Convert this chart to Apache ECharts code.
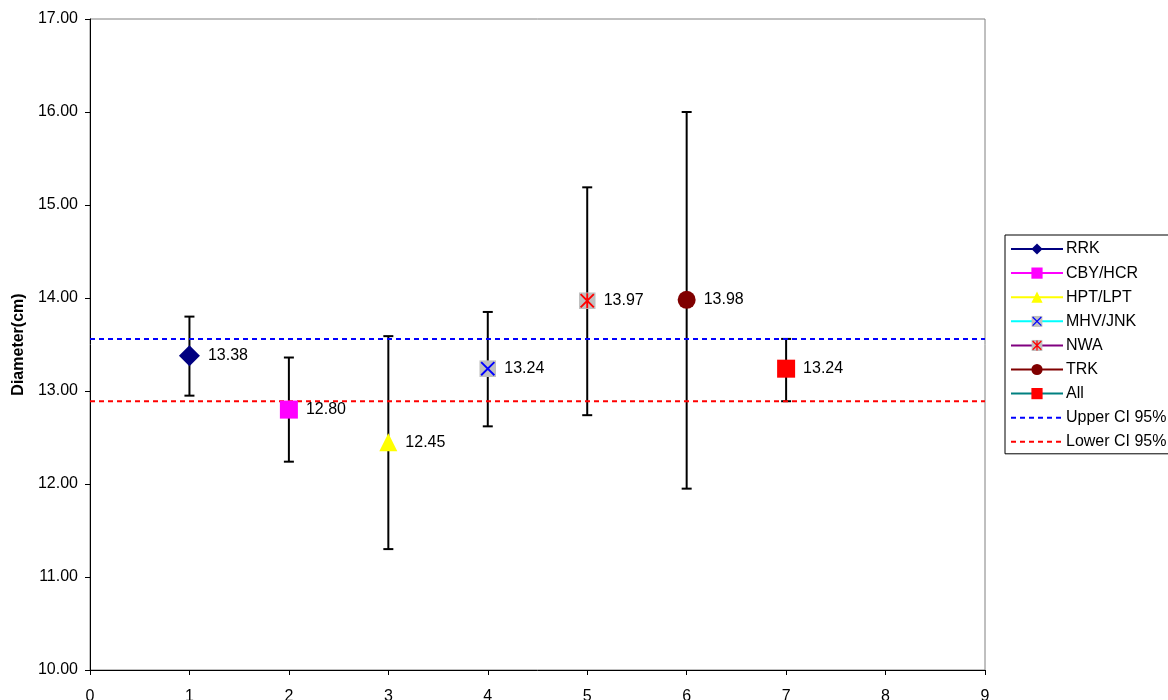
<!DOCTYPE html>
<html>
<head>
<meta charset="utf-8">
<script src="https://cdn.jsdelivr.net/npm/echarts@6/dist/echarts.min.js"></script>
<style>
  html, body { margin: 0; padding: 0; background: #fff; }
  #chart { width: 1168px; height: 700px; }
</style>
</head>
<body>
<div id="chart"></div>
<script>
// Sites, their x positions, mean diameter and 95% interval ends
const groups = ['RRK', 'CBY/HCR', 'HPT/LPT', 'MHV/JNK', 'NWA', 'TRK', 'All'];
const positions = [1, 2, 3, 4, 5, 6, 7];
const means = [13.38, 12.80, 12.45, 13.24, 13.97, 13.98, 13.24];
const upperBars = [13.80, 13.36, 13.59, 13.85, 15.19, 16.00, 13.56];
const lowerBars = [12.95, 12.24, 11.30, 12.62, 12.74, 11.95, 12.89];

// Pooled confidence limits drawn across the whole plot
const ciNames = ['Upper CI 95%', 'Lower CI 95%'];
const ciValues = [13.56, 12.89];
const xRange = [0, 9];

const FONT = '"Liberation Sans", Arial, sans-serif';

function svgSymbol(inner) {
  const svg = "<svg xmlns='http://www.w3.org/2000/svg' width='36' height='36' viewBox='0 0 36 36'>" + inner + "</svg>";
  return 'image://data:image/svg+xml;charset=utf-8,' + encodeURIComponent(svg);
}
const crossSquare = svgSymbol("<rect x='0' y='0' width='36' height='36' fill='#C0C0C0'/><path d='M4 4L32 32M32 4L4 32' stroke='#0000FF' stroke-width='4'/>");
const starSquare = svgSymbol("<rect x='0' y='0' width='36' height='36' fill='#C0C0C0'/><path d='M4 4L32 32M32 4L4 32M18 2L18 34' stroke='#FF0000' stroke-width='4'/>");

const styles = [
  { symbol: 'diamond', size: 21, fill: '#000080', line: '#000080' },
  { symbol: 'rect', size: 18, fill: '#FF00FF', line: '#FF00FF' },
  { symbol: 'triangle', size: 18, fill: '#FFFF00', line: '#FFFF00' },
  { symbol: crossSquare, size: 17, fill: '#C0C0C0', line: '#00FFFF' },
  { symbol: starSquare, size: 17, fill: '#C0C0C0', line: '#800080' },
  { symbol: 'circle', size: 18, fill: '#800000', line: '#800000' },
  { symbol: 'rect', size: 18, fill: '#FF0000', line: '#008080' }
];
const ciColors = ['#0000FF', '#FF0000'];

const series = [];

// Error bars with caps
series.push({
  type: 'custom',
  z: 2,
  silent: true,
  data: positions.map((x, i) => [x, lowerBars[i], upperBars[i]]),
  renderItem(params, api) {
    const x = api.value(0);
    const top = api.coord([x, api.value(2)]);
    const bot = api.coord([x, api.value(1)]);
    const hw = 5;
    const st = { stroke: '#000', lineWidth: 2 };
    return {
      type: 'group',
      children: [
        { type: 'line', shape: { x1: top[0], y1: top[1], x2: bot[0], y2: bot[1] }, style: st },
        { type: 'line', shape: { x1: top[0] - hw, y1: top[1], x2: top[0] + hw, y2: top[1] }, style: st },
        { type: 'line', shape: { x1: bot[0] - hw, y1: bot[1], x2: bot[0] + hw, y2: bot[1] }, style: st }
      ]
    };
  }
});

// One point per site with its value label
groups.forEach((name, i) => {
  const s = styles[i];
  series.push({
    name: name,
    type: 'line',
    z: 5,
    data: [[positions[i], means[i]]],
    symbol: s.symbol,
    symbolSize: s.size,
    itemStyle: { color: s.fill, borderWidth: 0 },
    lineStyle: { color: s.line, width: 2 },
    label: {
      show: true,
      position: 'right',
      distance: 8,
      color: '#000',
      fontFamily: FONT,
      fontSize: 16,
      formatter: p => p.value[1].toFixed(2)
    },
    emphasis: { disabled: true }
  });
});

// Confidence limit lines
ciNames.forEach((name, i) => {
  series.push({
    name: name,
    type: 'line',
    z: 3,
    data: xRange.map(x => [x, ciValues[i]]),
    symbol: 'none',
    lineStyle: { color: ciColors[i], width: 2, type: [5, 4] },
    itemStyle: { color: ciColors[i] },
    emphasis: { disabled: true }
  });
});

// Legend entries; the limit lines show only their dashed stroke
const legendData = groups.map(n => ({ name: n })).concat(
  ciNames.map(n => ({ name: n, itemStyle: { opacity: 0 } }))
);

const chart = echarts.init(document.getElementById('chart'), null, { renderer: 'canvas' });
chart.setOption({
  animation: false,
  backgroundColor: '#fff',
  grid: {
    left: 90, right: 183, top: 19, bottom: 30,
    outerBoundsMode: 'none',
    containLabel: false,
    show: true, borderColor: '#808080', borderWidth: 1, backgroundColor: 'transparent'
  },
  legend: {
    data: legendData,
    orient: 'vertical',
    left: 1005,
    top: 235,
    itemWidth: 52,
    itemHeight: 14,
    itemGap: 8.1,
    padding: [6, 4, 4, 5],
    borderColor: '#000',
    borderWidth: 1,
    backgroundColor: '#fff',
    textStyle: { fontFamily: FONT, fontSize: 16, color: '#000', padding: [0, 0, 0, -2] },
    selectedMode: false
  },
  xAxis: {
    type: 'value',
    min: 0, max: 9, interval: 1,
    axisLine: { lineStyle: { color: '#000', width: 1 } },
    axisTick: { show: true, length: 5, lineStyle: { color: '#000' } },
    axisLabel: { color: '#000', fontFamily: FONT, fontSize: 16, margin: 19 },
    splitLine: { show: false }
  },
  yAxis: {
    type: 'value',
    min: 10, max: 17, interval: 1,
    name: 'Diameter(cm)',
    nameLocation: 'middle',
    nameGap: 60,
    nameTextStyle: { fontFamily: FONT, fontSize: 16, fontWeight: 'bold', color: '#000' },
    axisLine: { show: true, lineStyle: { color: '#000', width: 1 } },
    axisTick: { show: true, length: 5, lineStyle: { color: '#000' } },
    axisLabel: { color: '#000', fontFamily: FONT, fontSize: 16, margin: 12, formatter: v => v.toFixed(2) },
    splitLine: { show: false }
  },
  series: series
});
</script>
</body>
</html>
